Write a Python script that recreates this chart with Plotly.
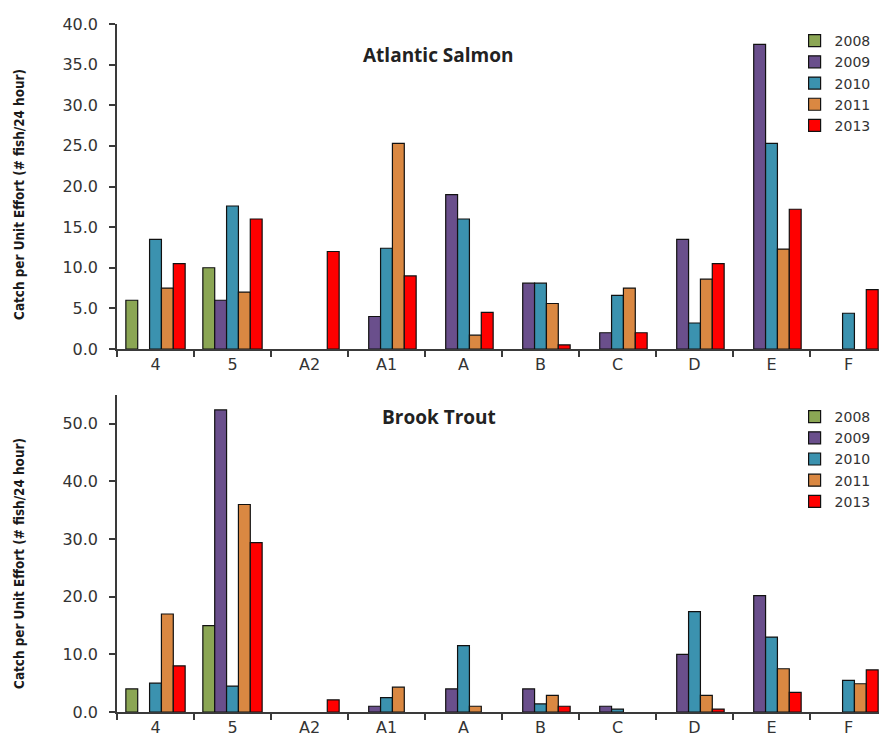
import plotly.graph_objects as go

sites = ["4", "5", "A2", "A1", "A", "B", "C", "D", "E", "F"]
years = ["2008", "2009", "2010", "2011", "2013"]
colors = ["#8BA654", "#6A4F8C", "#3B92AF", "#DA8842", "#FF0000"]

salmon_2008 = [6.0, 10.0, None, None, None, None, None, None, None, None]
salmon_2009 = [None, 6.0, None, 4.0, 19.0, 8.1, 2.0, 13.5, 37.5, None]
salmon_2010 = [13.5, 17.6, None, 12.4, 16.0, 8.1, 6.6, 3.2, 25.3, 4.4]
salmon_2011 = [7.5, 7.0, None, 25.3, 1.7, 5.6, 7.5, 8.6, 12.3, None]
salmon_2013 = [10.5, 16.0, 12.0, 9.0, 4.5, 0.5, 2.0, 10.5, 17.2, 7.3]

trout_2008 = [4.0, 15.0, None, None, None, None, None, None, None, None]
trout_2009 = [None, 52.4, None, 1.0, 4.0, 4.0, 1.0, 10.0, 20.2, None]
trout_2010 = [5.0, 4.5, None, 2.5, 11.5, 1.4, 0.5, 17.4, 13.0, 5.5]
trout_2011 = [17.0, 36.0, None, 4.3, 1.0, 2.9, None, 2.9, 7.5, 4.9]
trout_2013 = [8.0, 29.4, 2.1, None, None, 1.0, None, 0.5, 3.4, 7.3]

salmon = [salmon_2008, salmon_2009, salmon_2010, salmon_2011, salmon_2013]
trout = [trout_2008, trout_2009, trout_2010, trout_2011, trout_2013]

tick_font = dict(family="DejaVu Sans", size=16, color="#333333")
fig = go.Figure()

for yr, col, vals in zip(years, colors, salmon):
    fig.add_trace(go.Bar(x=sites, y=vals, name=yr, marker=dict(color=col, line=dict(color="#111111", width=1.2)),
                         xaxis="x", yaxis="y", legend="legend"))
for yr, col, vals in zip(years, colors, trout):
    fig.add_trace(go.Bar(x=sites, y=vals, name=yr, marker=dict(color=col, line=dict(color="#111111", width=1.2)),
                         xaxis="x2", yaxis="y2", legend="legend2"))

axis_common = dict(showline=True, linecolor="#3a3a3a", linewidth=1.5, ticks="outside",
                   ticklen=6, tickcolor="#3a3a3a", tickwidth=1.5, tickfont=tick_font,
                   showgrid=False, zeroline=False)

leg_common = dict(font=dict(family="DejaVu Sans", size=14, color="#333333"), bgcolor="rgba(0,0,0,0)",
                  xanchor="left", yanchor="top", tracegroupgap=0, itemwidth=30)

ytitle = "<b>Catch per Unit Effort (# fish/24 hour)</b>"
ytitle_font = dict(family="DejaVu Sans Condensed, Liberation Sans", size=13.4, color="#1a1a1a")

fig.update_layout(
    width=879, height=728,
    margin=dict(l=109, r=0, t=16, b=24),
    paper_bgcolor="white", plot_bgcolor="white",
    barmode="group", bargap=0.23, bargroupgap=0,
    xaxis=dict(domain=[0, 1], anchor="y", tickson="boundaries", **axis_common),
    yaxis=dict(domain=[0.5276, 1], anchor="x", range=[0, 40], dtick=5, tickformat=".1f",
               ticklabelstandoff=8, **axis_common),
    xaxis2=dict(domain=[0, 1], anchor="y2", tickson="boundaries", **axis_common),
    yaxis2=dict(domain=[0, 0.4608], anchor="x2", range=[0, 55], tickvals=[0, 10, 20, 30, 40, 50],
                tickformat=".1f", ticklabelstandoff=8, **axis_common),
    legend=dict(x=0.88, y=0.9985, **leg_common),
    legend2=dict(x=0.88, y=0.452, **leg_common),
    annotations=[
        dict(text="<b>Atlantic Salmon</b>", xref="paper", yref="paper", x=0.418, y=0.955,
             xanchor="center", yanchor="middle", showarrow=False,
             font=dict(family="Open Sans", size=19, color="#222222")),
        dict(text="<b>Brook Trout</b>", xref="paper", yref="paper", x=0.418, y=0.429,
             xanchor="center", yanchor="middle", showarrow=False,
             font=dict(family="Open Sans", size=19, color="#222222")),
        dict(text=ytitle, xref="paper", yref="paper", x=-0.126, y=0.753, textangle=-90,
             xanchor="center", yanchor="middle", showarrow=False, font=ytitle_font),
        dict(text=ytitle, xref="paper", yref="paper", x=-0.126, y=0.2166, textangle=-90,
             xanchor="center", yanchor="middle", showarrow=False, font=ytitle_font),
    ],
)

fig.write_html("out.html")
